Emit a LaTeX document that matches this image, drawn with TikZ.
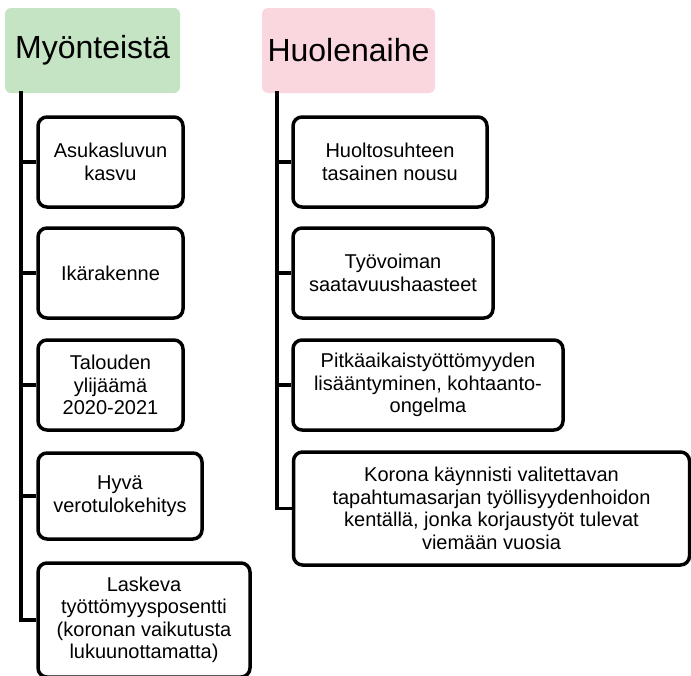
\documentclass[tikz,border=0pt]{standalone}
\usepackage{fontspec}
\setmainfont{Liberation Sans}
\definecolor{hdrgreen}{RGB}{196,228,196}
\definecolor{hdrpink}{RGB}{250,214,222}
\tikzset{
  hdr/.style={rounded corners=6pt, inner sep=0pt, align=center,
    font=\fontsize{32}{36}\selectfont},
  item/.style={draw=black, line width=3.5pt, rounded corners=9pt, fill=white,
    inner sep=0pt, align=center, font=\fontsize{20}{22.5}\selectfont},
  trunk/.style={line width=3.5pt, line cap=rect},
  twig/.style={line width=3.2pt}
}
\begin{document}
\begin{tikzpicture}[x=1pt,y=-1pt]
\clip (0,0) rectangle (691,675);
\useasboundingbox (0,0) rectangle (691,675);
% headers
\node[hdr, fill=hdrgreen, minimum width=175pt, minimum height=85pt] (hL) at (92.5,50.5) {Myönteistä};
\node[hdr, fill=hdrpink, minimum width=173pt, minimum height=85pt] (hR) at (348.5,50.5) {Huolenaihe};
% trunk coordinates
\coordinate (Lbot) at (21,620);
\coordinate (Rbot) at (277,508.5);
% left items
\node[item, minimum width=145pt, minimum height=90pt] (l1) at (110.5,162) {Asukasluvun\\kasvu};
\node[item, minimum width=145pt, minimum height=90pt] (l2) at (110.5,273) {Ikärakenne};
\node[item, minimum width=145pt, minimum height=90pt] (l3) at (110.5,385) {Talouden\\ylijäämä\\2020-2021};
\node[item, minimum width=164pt, minimum height=86pt] (l4) at (120,496) {Hyvä\\verotulokehitys};
\node[item, minimum width=212pt, minimum height=114pt] (l5) at (144,620) {Laskeva\\työttömyysposentti\\(koronan vaikutusta\\lukuunottamatta)};
% right items
\node[item, minimum width=194pt, minimum height=90pt] (r1) at (390,162) {Huoltosuhteen\\tasainen nousu};
\node[item, minimum width=200pt, minimum height=90pt] (r2) at (393,273) {Työvoiman\\saatavuushaasteet};
\node[item, minimum width=270pt, minimum height=90pt] (r3) at (428,385) {Pitkäaikaistyöttömyyden\\lisääntyminen, kohtaanto-\\ongelma};
\node[item, minimum width=396pt, minimum height=113pt] (r4) at (491.5,508.5) {Korona käynnisti valitettavan\\tapahtumasarjan työllisyydenhoidon\\kentällä, jonka korjaustyöt tulevat\\viemään vuosia};
% trunks
\draw[trunk] (hL.south -| Lbot) -- (Lbot);
\draw[trunk] (hR.south -| Rbot) -- (Rbot);
% twigs
\foreach \n in {l1,l2,l3,l4,l5} \draw[twig] (\n.west -| Lbot) -- (\n.west);
\foreach \n in {r1,r2,r3,r4} \draw[twig] (\n.west -| Rbot) -- (\n.west);
\end{tikzpicture}
\end{document}
